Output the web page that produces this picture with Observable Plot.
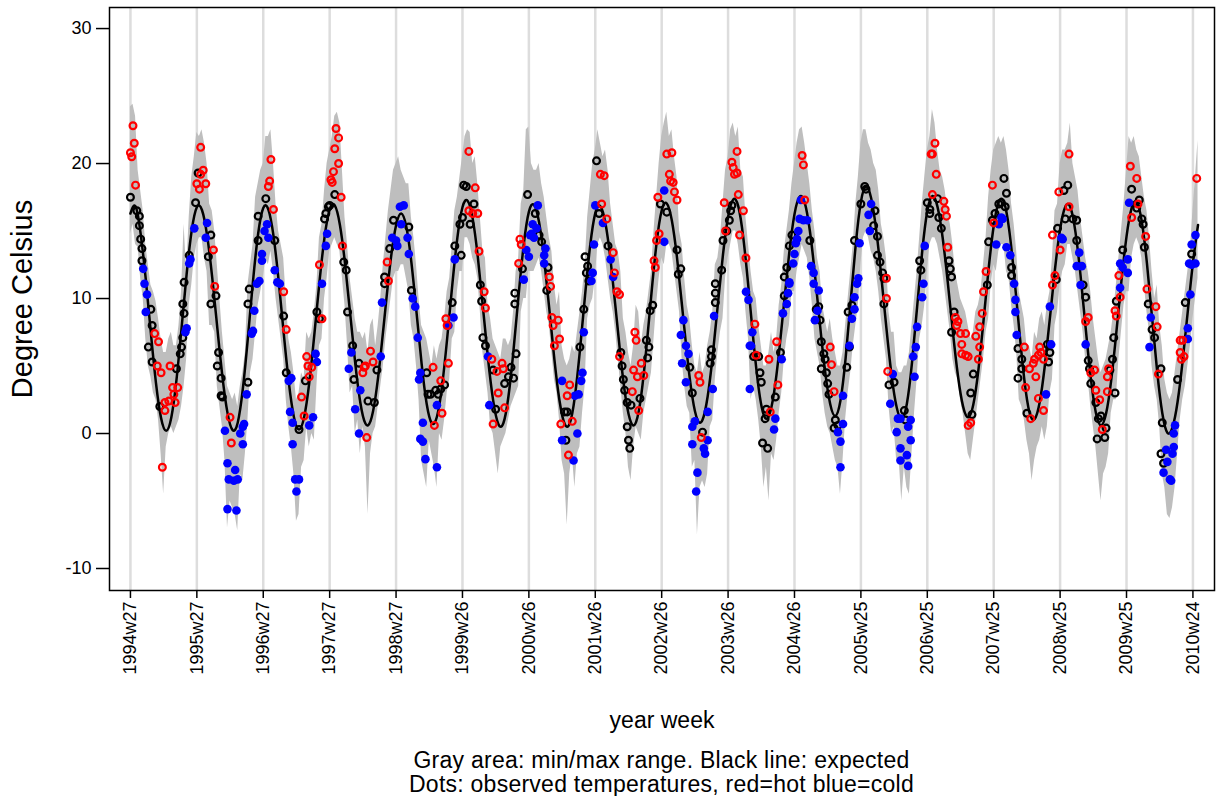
<!DOCTYPE html>
<html><head><meta charset="utf-8">
<script src="https://cdn.jsdelivr.net/npm/d3@7"></script>
<script src="https://cdn.jsdelivr.net/npm/@observablehq/plot@0.6"></script>
<style>
body{margin:0;background:#fff;font-family:"Liberation Sans",Arial,sans-serif;}
#caption{width:1105px;margin-left:109px;text-align:center;font-size:23px;line-height:24px;color:#000;padding-top:3px;letter-spacing:0.25px}
</style></head><body>
<div id="chart"></div>
<div id="caption">Gray area: min/max range. Black line: expected<br>Dots: observed temperatures, red=hot blue=cold</div>
<script>
// x = weeks since 1994w27
const tickLabels = ["1994w27","1995w27","1996w27","1997w27","1998w27","1999w26","2000w26","2001w26","2002w26","2003w26","2004w26","2005w25","2006w25","2007w25","2008w25","2009w25","2010w24"];
const tickWeeks = [0,52,104,156,208,260,312,364,416,468,520,572,624,676,728,780,832];
const yTicks = [-10,0,10,20,30];

// expected temperature, every 4 weeks from week 0
const expected = [16.3,16.83,14.79,11.43,7.44,3.74,1.14,0.2,1.19,3.94,7.78,11.8,15.05,16.76,16.56,14.7,11.58,7.84,4.24,1.53,0.25,0.8,3.3,7.13,11.31,14.8,16.71,16.59,14.66,11.37,7.46,3.81,1.23,0.3,1.21,3.73,7.33,11.21,14.54,16.58,16.9,15.47,12.62,8.94,5.23,2.3,0.74,0.92,2.77,5.88,9.57,13.01,15.43,16.3,15.33,12.68,8.99,5.18,2.19,0.76,1.24,3.5,7.02,10.98,14.5,16.76,17.24,15.92,13.1,9.39,5.57,2.47,0.73,0.76,2.74,6.2,10.29,14.01,16.42,16.94,15.65,12.88,9.23,5.48,2.43,0.72,0.75,2.72,6.17,10.23,13.92,16.33,16.84,15.56,12.83,9.22,5.52,2.51,0.82,0.86,2.84,6.3,10.39,14.11,16.52,17.04,15.76,13.03,9.42,5.72,2.71,1.02,1.02,2.74,5.81,9.58,13.25,16.04,17.34,16.83,14.44,10.77,6.73,3.31,1.35,1.32,3.03,6.08,9.83,13.48,16.25,17.54,17.11,15.04,11.79,8.03,4.58,2.17,1.3,2.44,5.55,9.8,14.05,17.16,18.3,17.45,15.07,11.62,7.78,4.33,1.95,1.1,2.21,5.23,9.35,13.48,16.49,17.6,16.79,14.52,11.23,7.57,4.28,2.01,1.2,2.13,4.7,8.33,12.18,15.37,17.16,17.15,15.18,11.73,7.67,3.98,1.57,1.06,2.31,5.0,8.54,12.17,15.13,16.78,16.76,14.94,11.71,7.82,4.14,1.54,0.6,1.48,3.94,7.46,11.28,14.59,16.7,17.14,15.68,12.6,8.6,4.6,1.52,0.06,0.45,2.35,5.42,9.06,12.63,15.45];

// min / max range, every 2 weeks from week 0
const bandLo = [14.8,15.5,14.0,13.8,11.5,10.0,7.0,5.0,4.2,3.0,2.5,1.0,-1.5,-4.5,-1.0,0.0,0.5,0.0,0.5,1.0,2.0,3.5,5.5,9.5,11.0,13.0,
14.0,14.5,14.5,13.0,12.0,8.0,8.0,7.5,3.5,2.0,0.5,-2.0,-7.0,-5.0,-5.5,-6.0,-7.2,-3.0,-3.5,-1.5,1.0,4.5,5.5,7.5,9.5,10.5,
11.5,13.0,12.5,13.5,12.0,10.0,8.5,7.0,5.5,2.5,0.5,-1.0,-3.0,-6.5,-6.0,-2.5,-2.0,0.5,-1.0,0.0,-0.5,3.5,6.5,7.0,10.0,11.5,
13.5,14.0,14.5,14.0,13.5,11.5,9.5,6.5,3.0,3.5,0.0,1.0,-1.5,0.5,-1.0,-6.0,-1.5,0.0,0.5,2.0,3.5,5.0,7.0,8.5,10.0,11.5,
12.0,12.0,12.5,12.5,11.5,10.5,8.0,7.0,5.0,2.5,-2.0,-3.0,-4.0,-0.5,-1.5,-2.5,-4.0,0.0,-0.5,1.0,3.0,4.0,7.0,7.5,10.5,12.0,
12.0,14.5,14.5,14.0,13.0,12.5,11.5,9.0,6.0,4.5,3.0,0.5,0.0,-1.5,-3.0,-1.0,-0.5,0.0,1.0,2.0,2.5,3.0,3.5,9.0,10.0,10.0,
12.0,12.0,12.0,12.5,13.0,12.0,10.5,9.0,8.0,6.0,4.0,3.0,1.0,-2.0,-3.0,-6.8,-3.0,-1.5,-4.0,-1.5,-1.0,1.5,3.5,8.5,9.5,10.0,
11.5,14.0,14.5,14.0,13.0,11.5,10.0,9.0,7.5,5.5,3.5,1.5,0.0,-2.5,-3.5,-1.0,0.5,0.0,-0.5,1.5,2.5,3.5,4.5,7.0,9.5,11.5,
13.0,12.5,14.0,14.0,13.5,12.0,10.5,9.0,5.5,3.5,2.0,1.5,-2.5,-2.0,-7.5,-4.0,-3.5,-4.0,-3.0,0.5,1.0,4.0,6.0,7.5,8.5,11.5,
13.0,14.0,15.0,15.0,14.0,12.5,11.5,9.0,7.0,2.5,3.5,2.5,1.0,-1.0,-4.0,-2.5,-5.0,-1.5,-2.0,-0.5,1.5,3.0,5.5,7.0,8.0,10.5,
10.5,12.0,13.0,14.0,13.5,13.0,11.5,9.5,7.0,6.0,5.0,3.0,1.5,0.5,0.0,-1.0,-2.0,-2.5,-4.5,-2.0,1.0,3.0,4.5,6.5,8.0,9.5,
12.5,14.5,15.0,14.5,13.5,13.0,12.0,10.5,8.5,7.0,5.5,2.0,0.0,0.5,-2.0,-2.0,-5.0,-2.5,-4.0,-4.5,-1.5,1.5,4.0,7.0,8.0,9.5,
12.0,14.0,14.5,14.5,14.0,13.0,12.0,10.5,9.0,7.5,5.5,4.5,4.0,2.5,1.5,0.0,-1.5,-2.0,-0.5,1.0,2.5,4.0,5.5,7.5,8.5,11.0,
12.5,12.0,13.5,14.0,14.0,12.0,11.5,9.5,8.0,6.0,2.5,2.0,1.0,-0.5,-1.5,-3.5,-2.0,-1.0,-0.5,0.5,-0.5,0.5,3.0,4.0,8.0,9.0,
11.0,12.0,12.5,14.0,14.0,13.0,12.0,10.5,9.0,7.5,5.5,4.0,2.0,0.5,-1.0,-3.0,-5.0,-3.0,-2.5,-1.5,1.5,2.5,2.5,5.5,7.5,9.5,
10.5,10.5,13.0,14.0,14.5,14.0,13.0,11.0,9.0,7.5,5.0,3.5,2.5,0.5,-3.0,-4.0,-6.0,-6.3,-5.5,-4.0,-1.5,1.0,2.5,3.5,5.0,6.5,8.5,10.0,11.5];
const bandHi = [24.2,24.4,23.5,19.5,18.0,16.5,14.0,12.5,11.0,10.5,9.8,8.5,7.0,6.0,6.0,7.0,7.5,6.5,6.5,8.0,10.5,15.5,12.0,16.0,19.0,20.5,
22.3,22.0,22.5,21.5,20.0,17.0,16.5,15.0,12.5,10.0,7.5,5.5,3.5,3.0,2.5,3.0,2.0,3.5,4.5,6.0,11.0,12.5,14.0,17.5,18.5,19.5,
20.0,22.0,22.0,22.5,20.0,17.0,15.0,14.0,13.0,10.0,7.0,6.0,4.5,2.5,3.0,4.5,4.0,7.5,7.0,7.5,9.0,11.0,14.5,15.5,18.0,20.0,
21.0,22.0,23.5,23.8,23.0,19.5,16.0,14.0,11.5,10.0,8.5,7.5,7.5,7.0,7.5,6.0,8.0,8.5,6.5,8.0,10.0,12.5,14.5,16.5,18.0,19.5,
20.0,20.5,19.5,19.0,18.5,18.5,16.0,14.5,12.5,10.0,8.0,7.5,7.0,6.0,5.0,6.5,5.5,6.5,7.0,8.5,10.5,11.5,14.0,16.5,17.5,19.0,
20.5,22.0,22.5,22.3,20.0,20.5,18.5,16.0,13.5,13.0,9.5,8.5,7.0,6.5,6.0,5.5,7.0,7.0,6.5,7.0,9.0,12.0,13.0,17.0,18.0,22.5,
22.7,20.0,19.5,19.5,20.0,18.5,17.5,16.0,14.5,13.5,11.0,9.5,10.5,6.5,5.5,5.0,5.5,6.5,6.0,7.5,9.0,10.5,12.5,16.0,18.0,20.0,
21.0,22.5,21.5,20.5,21.0,19.5,17.0,15.5,14.0,13.5,12.0,8.5,7.5,6.0,5.0,6.5,9.5,9.0,6.5,8.0,9.0,10.5,12.0,15.0,17.5,20.0,
22.0,23.0,23.8,22.0,22.5,20.5,19.0,15.0,14.0,11.5,9.5,8.5,6.5,5.0,4.5,6.0,4.5,5.0,6.5,7.5,9.0,12.5,13.0,14.5,17.0,19.5,
20.5,22.5,23.0,22.0,22.7,19.5,19.0,16.0,14.0,12.0,10.5,10.0,8.0,6.5,5.0,5.0,6.0,7.5,6.0,7.0,9.5,11.0,13.5,15.0,16.5,18.5,
20.0,21.5,22.5,22.7,21.5,20.0,18.5,16.5,15.0,13.0,12.0,9.5,8.5,7.5,8.5,7.0,6.0,5.0,5.0,6.0,8.0,10.0,12.0,14.0,17.0,19.0,
21.5,22.5,22.5,21.5,21.0,20.0,19.5,18.0,15.5,14.5,13.0,9.0,7.5,7.5,5.0,4.5,4.5,5.0,5.0,6.0,8.0,10.0,12.0,14.5,17.0,19.0,
21.0,22.0,24.0,23.0,21.0,19.5,19.0,18.0,16.5,15.5,14.0,12.0,11.0,10.0,9.5,9.0,8.0,7.0,7.5,9.0,9.5,10.5,12.5,14.5,17.5,19.5,
21.0,21.5,22.0,21.5,22.0,21.0,19.5,17.0,15.5,13.5,10.5,9.5,8.5,6.5,6.5,5.5,7.5,7.0,8.5,9.0,8.0,9.5,10.5,13.0,16.5,17.0,
20.0,21.0,21.0,21.5,23.0,20.0,19.0,18.0,16.0,14.5,13.0,12.0,10.5,8.5,7.0,5.5,4.5,5.0,5.5,6.5,7.5,9.0,11.0,13.0,15.0,17.0,
19.5,22.0,21.5,22.0,21.0,20.5,19.0,17.5,16.5,14.5,12.0,10.0,11.0,8.0,6.5,4.0,3.0,2.5,3.0,4.5,6.0,7.5,9.0,10.5,12.0,13.5,16.5,19.0,21.7];

// observed weekly temperatures [week, °C]
const hot = [[0,20.8],[1,20.5],[2,22.8],[3,21.5],[4,18.4],[19,7.4],[21,5.0],[22,6.8],[24,4.5],[25,-2.5],[27,2.3],[27,1.7],[30,2.4],[31,5.0],[33,3.4],[34,2.9],[35,2.3],[37,3.4],
[52,18.5],[54,18.1],[55,19.2],[55,21.2],[57,19.5],[59,18.5],[65,13.6],[66,10.9],[78,1.2],[79,-0.7],
[110,20.3],[109,18.7],[108,18.3],[112,16.6],[120,10.5],[122,7.7],[134,2.7],[136,1.3],[138,5.7],[139,5.0],[140,4.2],[142,4.9],[150,8.5],[148,12.5],
[157,18.8],[158,18.6],[159,19.4],[160,21.1],[161,22.6],[163,21.9],[163,20.0],[165,17.5],[166,13.9],[182,4.5],[183,4.9],[184,5.0],[185,-0.3],[188,6.1],[190,5.3],[201,12.7],[202,11.3],
[237,4.9],[238,0.6],[243,3.9],[244,1.5],[247,8.5],[248,8.0],[249,5.2],
[265,20.9],[270,18.2],[265,16.5],[268,16.3],[272,16.3],[273,13.5],[277,10.5],[278,9.3],[283,5.5],[287,4.6],[291,5.2],[292,4.8],[288,3.0],[284,0.7],[293,1.9],[305,14.4],[306,14.0],[304,12.6],
[328,11.6],[329,10.9],[330,8.6],[331,8.0],[335,8.4],[336,7.0],[332,6.5],[344,3.6],[342,2.8],[337,0.7],[346,0.9],[343,-1.6],
[368,19.2],[371,19.1],[369,17.0],[373,15.9],[378,13.4],[379,11.9],[381,10.5],[383,10.3],[383,5.7],[394,4.7],[395,7.5],[396,6.9],[397,4.2],[400,5.2],[402,4.3],[393,3.1],[398,1.7],[410,12.8],[411,12.3],[412,14.3],[414,14.8],[413,17.5],
[420,20.7],[424,20.8],[422,19.2],[423,18.7],[425,18.6],[426,17.9],[428,17.3],[445,4.3],[446,3.8],[447,-0.3],[466,15.0],[465,17.1],
[473,19.2],[471,20.1],[472,19.7],[475,19.3],[475,20.9],[476,17.7],[480,16.5],[477,14.7],[482,13.0],[489,8.1],[490,5.8],[500,5.5],[501,1.6],[507,3.6],[506,6.8],
[528,17.3],[526,20.6],[527,19.9],[548,6.4],[549,5.1],[551,3.1],
[592,11.5],[592,10.0],[593,4.6],
[628,17.7],[630,21.5],[628,20.7],[627,20.7],[631,19.2],[637,17.2],[638,16.6],[639,16.1],[640,13.8],[646,8.6],[648,8.3],[647,8.0],[650,7.4],[651,6.6],[654,7.4],[651,5.9],[654,5.8],[656,5.7],[662,7.2],[665,6.4],[664,5.5],[667,8.9],[665,7.9],[668,10.5],[670,12.0],[656,0.6],[658,0.8],[675,18.4],[676,15.6],
[700,6.4],[701,3.4],[705,1.1],[704,4.8],[707,5.2],[708,5.5],[709,4.2],[711,2.6],[712,6.4],[713,6.0],[715,5.5],[711,5.8],[715,1.7],[722,11.0],[724,11.7],[722,14.7],[728,13.6],[727,17.9],
[735,20.7],[735,16.8],[750,8.6],[748,8.3],[752,4.5],[755,4.7],[756,3.2],[759,2.5],[761,0.3],[765,4.2],[766,4.8],[765,3.1],[771,9.1],[772,8.7],[774,11.7],[775,10.1],
[783,19.8],[788,18.9],[789,17.0],[784,16.0],[795,14.6],[796,10.7],[803,9.4],[804,7.9],[805,4.4],[822,6.9],[824,6.9],[822,6.0],[823,5.5],[825,5.7],[835,18.9]];

const normal = [[0,17.5],[5,16.5],[7,16.1],[7,15.4],[8,14.4],[9,13.7],[9,12.8],[14,6.4],[16,9.2],[17,8.0],[17,5.3],[23,2.0],[36,4.8],[39,5.9],[40,6.4],[41,7.1],[41,9.6],[42,8.9],[42,11.2],[46,13.2],[51,17.1],
[53,19.3],[61,13.1],[63,9.6],[63,14.7],[67,10.2],[68,5.0],[69,6.0],[71,4.1],[71,2.8],[72,2.7],[92,3.8],[92,9.6],[93,10.7],[100,16.1],[100,14.3],
[106,17.4],[113,14.3],[120,8.7],[122,4.5],[132,0.3],[137,3.9],[146,9.0],[148,8.5],[152,15.9],[153,16.3],[155,16.8],
[156,16.9],[160,17.7],[167,12.7],[169,12.1],[170,9.0],[174,6.5],[175,4.0],[179,5.2],[186,2.4],[191,2.3],[193,4.7],[199,11.6],[199,11.1],[203,13.7],[206,15.8],
[218,15.3],[220,10.6],[232,4.5],[233,2.9],[235,2.9],[239,3.2],[241,2.9],[243,3.3],[246,3.6],[252,9.7],[254,13.9],[258,15.5],[259,13.2],[260,16.0],[261,18.4],[263,18.3],
[269,17.0],[266,15.5],[274,11.0],[275,9.8],[276,7.1],[278,6.5],[284,4.7],[293,3.7],[296,4.2],[298,4.9],[286,1.8],[301,9.6],[301,10.4],[302,5.9],[300,4.1],[307,12.2],[311,17.7],
[317,16.3],[320,14.7],[322,14.2],[327,12.3],[326,10.6],[352,6.4],[355,9.2],[340,1.6],[342,1.6],[341,-0.5],[356,13.1],[358,12.4],[359,11.3],[357,11.9],
[365,20.2],[367,16.3],[374,13.9],[384,6.0],[385,5.0],[386,4.0],[387,3.2],[389,2.3],[392,2.1],[399,2.6],[389,0.5],[390,-0.5],[391,-1.1],[404,6.9],[406,6.4],[405,5.6],[407,9.1],[409,9.5],[415,17.0],
[420,16.4],[428,13.6],[431,12.2],[429,11.8],[438,4.9],[440,3.0],[448,0.1],[454,5.2],[455,5.7],[455,6.2],[458,11.1],[458,10.4],[458,9.7],[463,12.1],[464,14.3],[467,15.0],[469,15.8],[470,16.5],[471,16.9],
[488,5.7],[492,5.7],[493,4.5],[494,3.8],[497,1.1],[498,1.8],[495,-0.7],[499,-1.1],[505,2.7],[509,6.0],[512,10.2],[514,12.3],[512,11.6],[518,14.7],[516,13.9],
[532,14.3],[537,9.2],[539,9.4],[540,8.4],[541,6.8],[543,5.9],[544,5.5],[541,4.8],[545,4.5],[546,3.7],[547,2.9],[552,1.0],[551,0.4],[554,0.6],[561,4.9],[563,6.4],[562,9.0],[565,9.5],[567,14.3],[572,17.0],[575,18.3],[576,18.1],
[583,16.5],[582,15.4],[585,14.6],[585,13.2],[587,12.7],[589,11.9],[590,11.5],[590,9.6],[594,3.6],[598,3.8],[606,1.7],[607,1.0],[618,12.8],[619,12.1],[624,17.1],[626,16.3],[626,16.6],
[632,17.4],[633,16.0],[635,15.2],[641,12.8],[642,12.2],[643,11.6],[645,9.0],[643,7.5],[660,4.4],[658,3.0],[659,1.4],[671,11.0],[672,14.2],[675,15.8],[677,16.3],[680,17.0],
[682,17.1],[684,18.9],[686,17.8],[685,16.8],[690,12.3],[690,11.7],[695,6.3],[695,4.1],[698,5.5],[698,4.8],[702,1.5],[718,6.6],[720,6.0],[719,5.3],[725,11.4],[726,15.2],[731,18.0],
[734,18.4],[732,15.9],[738,15.9],[741,15.8],[741,14.3],[746,11.0],[748,10.1],[751,4.8],[750,5.4],[752,3.7],[756,2.3],[760,1.3],[758,1.1],[757,-0.4],[763,-0.3],[764,0.4],[767,4.7],[769,5.5],[770,7.1],[771,3.0],[772,9.8],[777,13.6],
[784,18.1],[790,17.3],[788,16.7],[792,15.9],[793,15.5],[794,13.8],[797,9.6],[800,7.7],[802,7.1],[807,4.8],[808,0.8],[807,-1.5],[809,-2.2],[820,4.0],[826,9.7],[831,13.3]];

const cold = [[10,12.2],[11,11.1],[12,9.0],[13,10.3],[43,7.5],[44,7.8],[46,12.6],[47,12.9],[50,15.2],
[60,15.6],[59,14.5],[74,0.2],[76,-2.2],[76,-5.6],[77,-3.4],[81,-3.5],[82,-2.7],[83,-5.7],[84,-3.4],[86,0.0],[88,0.5],[88,-0.8],[89,0.7],[91,2.9],[95,7.4],[96,7.6],[97,9.1],[99,11.1],[101,11.3],[103,13.3],[103,12.8],
[105,15.0],[107,15.5],[108,14.5],[113,12.1],[115,11.2],[117,11.1],[124,3.9],[126,4.1],[125,1.6],[127,0.8],[127,-0.8],[129,-3.4],[132,-3.4],[130,-4.3],[140,0.6],[143,1.2],[145,5.9],[146,5.3],[150,11.1],[154,14.8],[153,13.9],
[171,4.8],[173,6.0],[176,1.8],[179,0.0],[180,3.2],[196,5.7],[197,9.7],[205,14.5],[208,14.3],[209,13.9],[211,16.8],[212,15.5],[214,16.9],
[217,14.5],[218,13.3],[221,10.0],[223,9.4],[225,7.1],[226,4.0],[227,4.5],[227,-0.4],[229,0.8],[229,-0.6],[231,-1.9],[240,-2.5],[240,2.1],[249,8.0],[253,8.6],[254,12.9],
[280,5.7],[281,2.1],[310,13.6],[312,13.1],[308,11.4],
[319,16.9],[315,15.5],[314,14.8],[313,14.7],[318,15.2],[316,14.5],[325,13.7],[324,13.2],[324,12.6],[355,7.5],[338,3.9],[348,2.8],[351,2.9],[353,3.9],[354,4.5],[338,-0.5],[350,0.0],[347,-2.0],[361,11.3],[362,11.9],[363,14.0],
[364,16.9],[370,15.6],[376,12.9],[378,11.6],
[418,18.0],[418,14.2],[433,8.4],[431,7.3],[435,6.5],[437,5.9],[432,5.2],[435,3.8],[442,0.9],[440,0.5],[440,-0.8],[452,1.6],[452,-0.5],[449,-1.1],[450,-1.5],[444,-2.9],[443,-4.3],[456,3.3],[457,8.7],
[482,10.5],[484,9.9],[487,7.5],[485,6.5],[486,6.5],[485,3.3],[505,1.1],[504,0.3],[510,5.5],[511,8.9],[514,9.6],[516,11.1],[516,11.2],[515,10.4],[519,12.6],[520,13.3],[521,14.1],[522,14.4],[523,15.0],
[524,15.9],[527,15.8],[530,15.8],[525,17.3],[533,12.4],[535,11.9],[535,11.1],[536,8.4],[539,10.6],[538,9.1],[554,0.1],[556,-0.6],[556,-2.5],[558,0.7],[558,2.8],[563,6.5],[565,8.5],[567,9.2],[567,10.1],[570,11.5],[569,11.1],[571,14.1],
[580,17.0],[578,16.2],[579,15.0],[597,4.4],[595,2.2],[601,1.1],[603,1.1],[600,0.1],[611,1.0],[609,0.5],[611,-0.5],[603,-1.1],[608,-1.6],[603,-2.0],[609,-2.4],[614,4.2],[613,5.7],[615,6.4],[616,7.9],[621,11.1],[620,10.1],[622,13.9],
[678,14.0],[680,15.5],[682,16.0],[683,15.9],
[686,13.8],[689,13.2],[692,11.1],[693,9.9],[693,9.0],[694,7.3],[717,2.9],[720,9.4],[721,6.6],[729,14.5],[730,14.4],
[743,13.4],[741,12.4],[745,12.4],[744,11.0],[748,6.6],[775,10.8],[775,12.6],[777,12.3],[781,11.9],[781,12.9],
[782,17.1],[799,8.6],[798,6.4],[818,0.6],[817,0.0],[817,-1.0],[811,-1.2],[812,-2.1],[809,-2.9],[814,-3.4],[815,-3.5],[816,-1.5],[828,7.0],[828,7.8],[830,10.3],[829,12.6],[831,12.5],[834,12.6],[831,14.0],[834,14.7]];

// ---- build tables ----
const labelOf = new Map(tickWeeks.map((w, k) => [w, tickLabels[k]]));
const band = bandLo.map((lo, k) => ({week: 2 * k, lo, hi: bandHi[k]}));
const exp = expected.map((t, k) => ({week: 4 * k, t}));
const rows = a => a.map(([week, t]) => ({week, t}));

const chart = Plot.plot({
  width: 1217, height: 745,
  marginLeft: 109, marginRight: 3, marginTop: 7, marginBottom: 155,
  style: {fontFamily: '"Liberation Sans", Arial, sans-serif', fontSize: "18px", background: "white", color: "black"},
  x: {domain: [-16.4, 848.9]},
  y: {domain: [-11.63, 31.56]},
  marks: [
    Plot.ruleX(tickWeeks, {stroke: "#dddddd", strokeWidth: 2.5}),
    Plot.areaY(band, {x: "week", y1: "lo", y2: "hi", fill: "#bebebe"}),
    Plot.line(exp, {x: "week", y: "t", stroke: "black", strokeWidth: 2.5, curve: "natural"}),
    Plot.dot(rows(normal), {x: "week", y: "t", r: 3.4, stroke: "black", strokeWidth: 2.2, fill: "none"}),
    Plot.dot(rows(cold), {x: "week", y: "t", r: 4.3, fill: "blue", stroke: "none"}),
    Plot.dot(rows(hot), {x: "week", y: "t", r: 3.4, stroke: "red", strokeWidth: 2.2, fill: "none"}),
    Plot.frame({stroke: "black", strokeWidth: 1.5}),
    Plot.axisY({ticks: yTicks, tickFormat: d => String(d), tickSize: 13, tickPadding: 5, strokeWidth: 1.5, label: null, fontSize: 18}),
    Plot.axisX({ticks: tickWeeks, tickFormat: d => labelOf.get(d), tickRotate: -90, tickSize: 8, tickPadding: 3, strokeWidth: 1.5, label: null, fontSize: 18}),
    Plot.text(["Degree Celsius"], {text: d => d, frameAnchor: "left", dx: -87, rotate: -90, textAnchor: "middle", fontSize: 29}),
    Plot.text(["year week"], {text: d => d, frameAnchor: "bottom", dy: 137, textAnchor: "middle", fontSize: 23})
  ]
});
document.getElementById("chart").appendChild(chart);
</script>
</body></html>
